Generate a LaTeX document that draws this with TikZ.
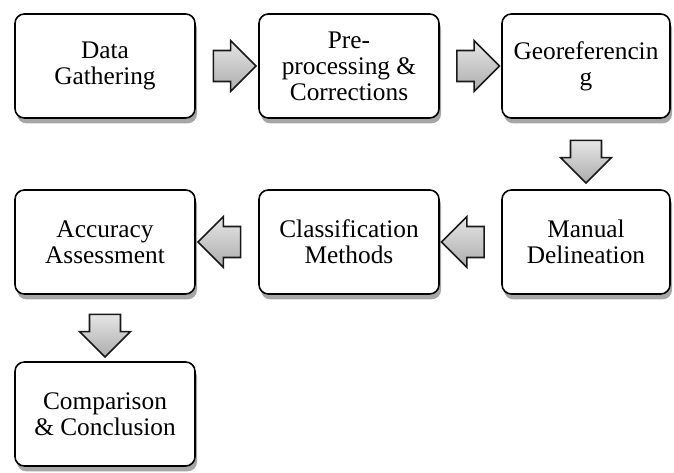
\documentclass[tikz,border=0pt]{standalone}
\usepackage{fontspec}
\setmainfont{Liberation Serif}
\usetikzlibrary{shapes.arrows}
\usetikzlibrary{shadows}
\usetikzlibrary{calc}

\tikzset{
  stagebox/.style={draw, line width=1.2pt, rounded corners=7pt, fill=white,
    minimum width=135pt, minimum height=78pt, align=center,
    font=\fontsize{19}{19.5}\selectfont,
    drop shadow={shadow xshift=1.5pt, shadow yshift=-4pt, fill=gray!70, opacity=1}},
  flowarrow/.style={single arrow, draw=black!90, line width=1.2pt,
    top color=gray!20, bottom color=gray!65, inner sep=0pt,
    minimum height=32pt, single arrow head extend=7.5pt},
  sidearrow/.style={flowarrow, inner ysep=11pt},
  downarrow/.style={flowarrow, inner xsep=11pt, shape border rotate=270}
}

\begin{document}
\begin{tikzpicture}[x=0.75pt, y=-0.75pt]
\useasboundingbox (0,0) rectangle (674,473);
\node[stagebox] (gather) at (105,66) {Data\\Gathering};
\node[stagebox] (prep) at (349,66) {Pre-\\processing \&\\Corrections};
\node[stagebox, minimum width=126pt] (georef) at (586,66) {Georeferencin\\g};
\node[stagebox] (accur) at (105,242) {Accuracy\\Assessment};
\node[stagebox] (classif) at (349,242) {Classification\\Methods};
\node[stagebox, minimum width=126pt] (manual) at (586,242) {Manual\\Delineation};
\node[stagebox] (compar) at (105,414) {Comparison\\\& Conclusion};
\node[sidearrow] (a1) at ($(gather.east)!0.5!(prep.west)$) {};
\node[sidearrow] (a2) at ($(prep.east)!0.5!(georef.west)$) {};
\node[downarrow] (a3) at ($(georef.south)!0.5!(manual.north)$) {};
\node[sidearrow, shape border rotate=180] (a4) at ($(manual.west)!0.5!(classif.east)$) {};
\node[sidearrow, shape border rotate=180] (a5) at ($(classif.west)!0.5!(accur.east)$) {};
\node[downarrow] (a6) at ($(accur.south)!0.5!(compar.north)$) {};
\end{tikzpicture}
\end{document}
